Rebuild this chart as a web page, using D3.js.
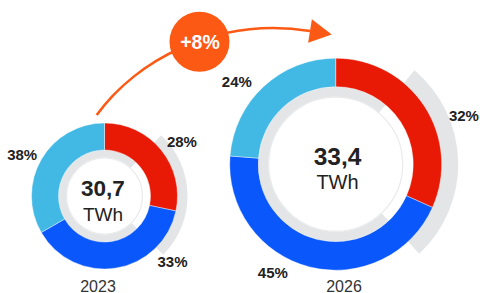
<!DOCTYPE html>
<html><head><meta charset="utf-8">
<script src="https://cdn.jsdelivr.net/npm/d3@7"></script>
<style>html,body{margin:0;padding:0;background:#fff;}svg{display:block;}</style>
</head><body>
<svg id="c" width="480" height="293"></svg>
<script>
// ---- data ----
const categories = ["Segment A", "Segment B", "Segment C"];
const years = ["2023", "2026"];
const totals = ["30,7", "33,4"];
const unit = "TWh";
const values2023 = [28, 38, 33];
const values2026 = [32, 45, 24];
const pctLabels2023 = ["28%", "33%", "38%"];
const pctLabels2026 = ["32%", "45%", "24%"];
const growthLabel = "+8%";

// ---- styles ----
const colors = ["#e81a06", "#0a58fb", "#42b8e5"];
const grayBand = "#e4e5e7";
const orange = "#fc5a14";
const font = "'Liberation Sans', Arial, sans-serif";

const svg = d3.select("#c");
const rad = d => d * Math.PI / 180;

const charts = [
  {values: values2023, labels: pctLabels2023, total: totals[0], year: years[0],
   cx: 104.5, cy: 196, rOut: 73, rIn: 46, gIn: 38.5, bandOut: 83, bandA0: 43, bandA1: 135,
   valSize: 22.5, unitSize: 19, textX: 103, valY: 196, unitY: 221, yearX: 98,
   labelPos: [[55, 94.5], [134, 94.5], [296.5, 92]]},
  {values: values2026, labels: pctLabels2026, total: totals[1], year: years[1],
   cx: 335.7, cy: 164.2, rOut: 106, rIn: 77.5, gIn: 67.5, bandOut: 122.5, bandA0: 40, bandA1: 137,
   valSize: 24.5, unitSize: 20, textX: 337.5, valY: 165, unitY: 189.3, yearX: 344,
   labelPos: [[69.4, 137], [210.2, 125], [310, 129]]}
];

charts.forEach(c => {
  const g = svg.append("g").attr("transform", `translate(${c.cx},${c.cy})`);
  const pie = d3.pie().sort(null).value(d => d)(c.values);

  // outer gray band
  g.append("path")
    .attr("d", d3.arc().innerRadius(c.rOut - 0.5).outerRadius(c.bandOut)
      .startAngle(rad(c.bandA0)).endAngle(rad(c.bandA1))())
    .attr("fill", grayBand);

  // inner gray ring (gap where band is pushed outward)
  g.append("path")
    .attr("d", d3.arc().innerRadius(c.gIn).outerRadius(c.rIn + 0.5)
      .startAngle(rad(c.bandA1)).endAngle(rad(c.bandA0 + 360))())
    .attr("fill", grayBand);

  // inner circle with thin border
  g.append("circle").attr("r", c.gIn - 0.5)
    .attr("fill", "#fff").attr("stroke", "#e9eaeb").attr("stroke-width", 1.2);

  // colored segments
  g.selectAll("path.seg").data(pie).join("path").attr("class", "seg")
    .attr("d", d3.arc().innerRadius(c.rIn).outerRadius(c.rOut))
    .attr("fill", (d, i) => colors[i])
    .attr("stroke", "#fff").attr("stroke-width", 0.4);

  // percent labels
  g.selectAll("text.pct").data(c.labels).join("text").attr("class", "pct")
    .attr("x", (d, i) => c.labelPos[i][1] * Math.sin(rad(c.labelPos[i][0])))
    .attr("y", (d, i) => -c.labelPos[i][1] * Math.cos(rad(c.labelPos[i][0])))
    .attr("text-anchor", "middle").attr("dy", "0.36em")
    .attr("font-family", font).attr("font-weight", "bold").attr("font-size", 15)
    .attr("fill", "#222").text(d => d);

  // center texts
  svg.append("text").attr("x", c.textX).attr("y", c.valY)
    .attr("text-anchor", "middle").attr("font-family", font).attr("font-weight", "bold")
    .attr("font-size", c.valSize).attr("fill", "#222").text(c.total);
  svg.append("text").attr("x", c.textX).attr("y", c.unitY)
    .attr("text-anchor", "middle").attr("font-family", font)
    .attr("font-size", c.unitSize).attr("fill", "#222").text(unit);

  // year
  svg.append("text").attr("x", c.yearX).attr("y", 291.5)
    .attr("text-anchor", "middle").attr("font-family", font)
    .attr("font-size", 16).attr("fill", "#333").text(c.year);
});

// growth arrow
const p0 = [96.7, 115], p1 = [135, 62], p2 = [215, 16], p3 = [310, 31];
const pathD = d3.path();
pathD.moveTo(...p0);
pathD.bezierCurveTo(...p1, ...p2, ...p3);
svg.append("path").attr("d", pathD.toString())
  .attr("fill", "none").attr("stroke", orange).attr("stroke-width", 2.6);

const ang = Math.atan2(p3[1] - p2[1], p3[0] - p2[0]);
const len = 22, hw = 12;
const ux = Math.cos(ang), uy = Math.sin(ang), px = -uy, py = ux;
const head = [
  [p3[0] + ux * len, p3[1] + uy * len],
  [p3[0] + px * hw, p3[1] + py * hw],
  [p3[0] - px * hw, p3[1] - py * hw]
];
svg.append("path").attr("d", d3.line()(head) + "Z").attr("fill", orange);

svg.append("circle").attr("cx", 199.5).attr("cy", 41.7).attr("r", 30).attr("fill", orange);
svg.append("text").attr("x", 200).attr("y", 48.5).attr("text-anchor", "middle")
  .attr("font-family", font).attr("font-weight", "bold").attr("font-size", 19.5)
  .attr("fill", "#fff").text(growthLabel);
</script>
</body></html>
